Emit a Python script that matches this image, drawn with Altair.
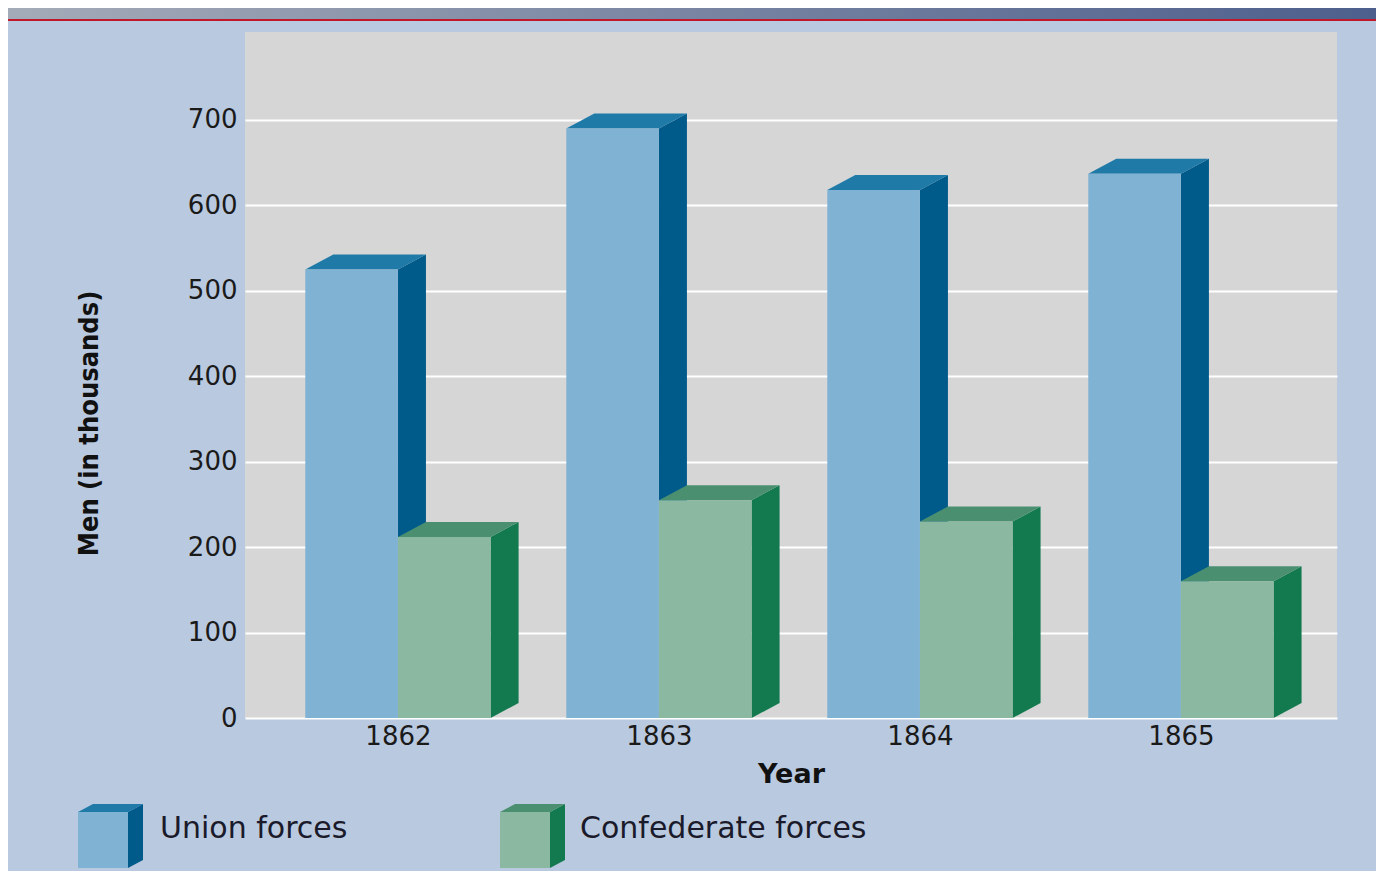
import altair as alt
import pandas as pd

# ---- data (thousands of men) ----
years = ["1862", "1863", "1864", "1865"]
union = [525, 690, 618, 637]
confederate = [212, 255, 230, 160]
series = ["Union forces", "Confederate forces"]

# ---- styling / geometry constants ----
W, H = 1092, 686
X_DOM = [-0.586, 3.598]
Y_DOM = [0, 803]
PX_X = W / (X_DOM[1] - X_DOM[0])   # px per x-unit
PX_Y = H / (Y_DOM[1] - Y_DOM[0])   # px per y-unit
BAR_W = 0.355
DX = 28 / PX_X
DY = 15 / PX_Y

colors = {
    "Union forces": {"front": "#80b2d3", "side": "#005a8a", "top": "#1f7aa8"},
    "Confederate forces": {"front": "#8ab8a0", "side": "#137a50", "top": "#4a9070"},
}


def px2x(px):
    return X_DOM[0] + (px - 245) / PX_X


def px2y(py):
    return (718 - py) / PX_Y


def boxes(lefts, width, bases, tops, dx, dy):
    fr, sd, tp = [], [], []
    for i, (l, b, t) in enumerate(zip(lefts, bases, tops)):
        r = l + width
        fr.append({"x": l, "x2": r, "y": b, "y2": t})
        sd += [{"id": i, "x": r, "yt": t, "yb": b},
               {"id": i, "x": r + dx, "yt": t + dy, "yb": b + dy}]
        tp += [{"id": i, "y": t, "xl": l, "xr": r},
               {"id": i, "y": t + dy, "xl": l + dx, "xr": r + dx}]
    return pd.DataFrame(fr), pd.DataFrame(sd), pd.DataFrame(tp)


xs = alt.Scale(domain=X_DOM, nice=False, zero=False)
ys = alt.Scale(domain=Y_DOM, nice=False, zero=False)

label_expr = "[" + ",".join("'%s'" % y for y in years) + "][datum.value]"
x_axis = alt.Axis(values=[0, 1, 2, 3], labelExpr=label_expr, grid=False,
                  ticks=False, domain=False, labelFontSize=26,
                  labelFont="DejaVu Sans", labelColor="#1a1a1a",
                  labelPadding=5, titleFont="DejaVu Sans",
                  titleFontSize=27, titleFontWeight="bold",
                  titleColor="#111111", titlePadding=12)
y_axis = alt.Axis(values=list(range(0, 800, 100)), grid=True,
                  gridColor="#ffffff", gridWidth=2, ticks=False,
                  domain=False, labelFontSize=26, labelFont="DejaVu Sans",
                  labelColor="#1a1a1a", labelPadding=8,
                  titleFont="DejaVu Sans Condensed", titleFontSize=27,
                  titleFontWeight="bold", titleColor="#111111",
                  titlePadding=84, titleY=391)
X_T = "Year"
Y_T = "Men (in thousands)"


def X(f):
    return alt.X(f, scale=xs, axis=x_axis, title=X_T)


def Y(f):
    return alt.Y(f, scale=ys, axis=y_axis, title=Y_T)


def box_layers(df_f, df_s, df_t, c):
    front = alt.Chart(df_f).mark_rect().encode(
        x=X("x:Q"), x2="x2", y=Y("y:Q"), y2="y2",
        color=alt.value(c["front"]))
    side = alt.Chart(df_s).mark_area(orient="vertical").encode(
        x=X("x:Q"), y=Y("yt:Q"), y2="yb",
        detail="id:N", color=alt.value(c["side"]))
    top = alt.Chart(df_t).mark_area(orient="horizontal").encode(
        y=Y("y:Q"), x=X("xl:Q"), x2="xr",
        detail="id:N", color=alt.value(c["top"]))
    return [side, top, front]


layers = []

# bars
u_lefts = [i - BAR_W for i in range(len(years))]
c_lefts = [i for i in range(len(years))]
zeros = [0] * len(years)
layers += box_layers(*boxes(u_lefts, BAR_W, zeros, union, DX, DY), colors["Union forces"])
layers += box_layers(*boxes(c_lefts, BAR_W, zeros, confederate, DX, DY), colors["Confederate forces"])

# legend (custom 3D boxes)
LDX = 15 / PX_X
LDY = 8 / PX_Y
leg_left = [px2x(78), px2x(500)]
leg_w = 50 / PX_X
for name, l in zip(series, leg_left):
    f, s, t = boxes([l], leg_w, [px2y(868)], [px2y(812)], LDX, LDY)
    layers += box_layers(f, s, t, colors[name])

leg_text = pd.DataFrame({"x": [px2x(160), px2x(580)], "y": [px2y(829)] * 2, "t": series})
layers.append(alt.Chart(leg_text).mark_text(
    align="left", baseline="middle", font="DejaVu Sans", fontSize=30,
    color="#1a1a2a").encode(
    x=X("x:Q"), y=Y("y:Q"), text="t:N"))

# top header strip from slide
strip = alt.Chart(pd.DataFrame({"a": [0]})).mark_rect().encode(
    x=alt.value(-237), x2=alt.value(1131), y=alt.value(-24), y2=alt.value(-12),
    color=alt.value(alt.Gradient(gradient="linear",
                                 stops=[alt.GradientStop(color="#a4abb8", offset=0),
                                        alt.GradientStop(color="#4d5f8c", offset=1)],
                                 x1=0, x2=1, y1=0, y2=0)))
redline = alt.Chart(pd.DataFrame({"a": [0]})).mark_rule(color="#c0182a", strokeWidth=2).encode(
    x=alt.value(-237), x2=alt.value(1131), y=alt.value(-12))
layers += [strip, redline]

chart = alt.layer(*layers).properties(
    width=W, height=H,
    background="#b9c9df",
    padding={"left": 237, "top": 24, "right": 39, "bottom": 153},
    autosize=alt.AutoSizeParams(type="none"),
).configure_view(fill="#d6d6d7", stroke=None, clip=False)

chart.save("out.html", embed_options={"renderer": "svg", "actions": False})
